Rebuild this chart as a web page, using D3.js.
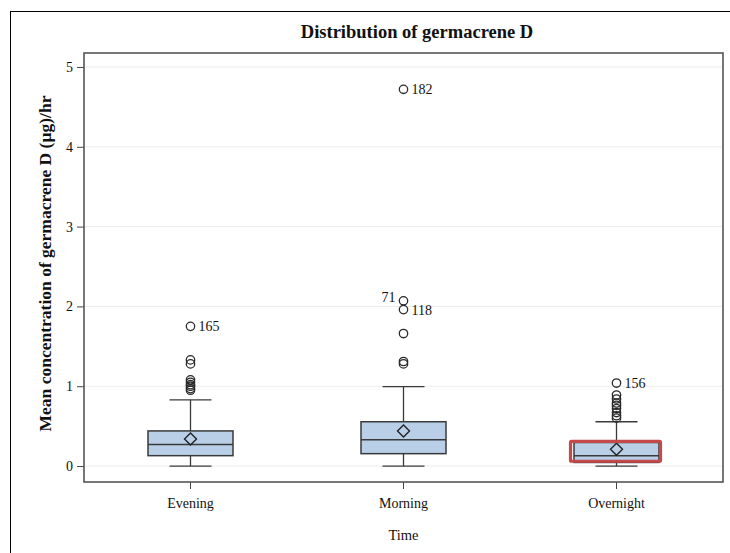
<!DOCTYPE html>
<html>
<head>
<meta charset="utf-8">
<script src="https://cdn.jsdelivr.net/npm/d3@7/dist/d3.min.js"></script>
<style>
  html, body { margin: 0; padding: 0; background: #fff; }
  svg { display: block; }
  text { font-family: "Liberation Serif", "DejaVu Serif", serif; fill: #111; }
</style>
</head>
<body>
<script>
// Summary statistics per time of day
const categories = ["Evening", "Morning", "Overnight"];
const q1 = [0.13, 0.155, 0.045];
const medians = [0.27, 0.33, 0.13];
const q3 = [0.44, 0.555, 0.295];
const means = [0.34, 0.44, 0.21];
const whiskerLow = [0.0, 0.0, 0.0];
const whiskerHigh = [0.83, 0.995, 0.555];

// Outlying observations per category
const outlierEvening = [1.75, 1.33, 1.28, 1.08, 1.05, 1.02, 1.0, 0.97, 0.95];
const outlierMorning = [4.72, 2.07, 1.96, 1.66, 1.31, 1.28];
const outlierOvernight = [1.04, 0.89, 0.84, 0.79, 0.76, 0.72, 0.67, 0.63, 0.6];
// Labelled observations: [category, value, id]
const outlierIds = [
  ["Evening", 1.75, "165"],
  ["Morning", 4.72, "182"],
  ["Morning", 2.07, "71"],
  ["Morning", 1.96, "118"],
  ["Overnight", 1.04, "156"]
];
const yTicks = [0, 1, 2, 3, 4, 5];
// Highlighted range on the Overnight box
const highlight = { category: "Overnight", low: 0.06, high: 0.31 };

const W = 730, H = 553;
const margin = { top: 53, right: 7, bottom: 71, left: 84 };

const svg = d3.select("body").append("svg").attr("width", W).attr("height", H);

// outer graph border (continues past the right and bottom edges)
svg.append("rect")
  .attr("x", 10.5).attr("y", 11.5).attr("width", 760).attr("height", 600)
  .attr("fill", "none").attr("stroke", "#000").attr("stroke-width", 1);

const x = d3.scaleBand().domain(categories)
  .range([margin.left, W - margin.right]).padding(0);
const y = d3.scaleLinear().domain([-0.2, 5.175])
  .range([H - margin.bottom, margin.top]);

// grid lines
svg.append("g").selectAll("line").data(yTicks).join("line")
  .attr("x1", margin.left).attr("x2", W - margin.right)
  .attr("y1", d => y(d)).attr("y2", d => y(d))
  .attr("stroke", "#ececec").attr("stroke-width", 1);

// axes
const yAxis = svg.append("g")
  .attr("transform", `translate(${margin.left},0)`)
  .call(d3.axisLeft(y).tickValues(yTicks).tickSize(7).tickPadding(4).tickFormat(d3.format("d")));
const xAxis = svg.append("g")
  .attr("transform", `translate(0,${H - margin.bottom})`)
  .call(d3.axisBottom(x).tickSize(7).tickPadding(9));
[yAxis, xAxis].forEach(g => {
  g.attr("font-family", null);
  g.select(".domain").remove();
  g.selectAll(".tick line").attr("stroke", "#444");
  g.selectAll(".tick text").style("font-size", "14px").attr("fill", "#111")
    .style("font-family", '"Liberation Serif", serif');
});

// plot frame
svg.append("rect")
  .attr("x", margin.left).attr("y", margin.top)
  .attr("width", W - margin.left - margin.right)
  .attr("height", H - margin.top - margin.bottom)
  .attr("fill", "none").attr("stroke", "#555").attr("stroke-width", 1.6);

const boxW = 85, capW = 42;
const stats = categories.map((c, i) => ({
  c, q1: q1[i], med: medians[i], q3: q3[i], mean: means[i],
  lo: whiskerLow[i], hi: whiskerHigh[i], cx: x(c) + x.bandwidth() / 2
}));

const boxes = svg.append("g").selectAll("g").data(stats).join("g");
const stroke = "#3a3a3a";
// whiskers
boxes.append("line")
  .attr("x1", d => d.cx).attr("x2", d => d.cx)
  .attr("y1", d => y(d.q3)).attr("y2", d => y(d.hi))
  .attr("stroke", stroke).attr("stroke-width", 1.3);
boxes.append("line")
  .attr("x1", d => d.cx).attr("x2", d => d.cx)
  .attr("y1", d => y(d.q1)).attr("y2", d => y(d.lo))
  .attr("stroke", stroke).attr("stroke-width", 1.3);
boxes.selectAll(".cap").data(d => [[d.cx, d.hi], [d.cx, d.lo]]).join("line")
  .attr("x1", d => d[0] - capW / 2).attr("x2", d => d[0] + capW / 2)
  .attr("y1", d => y(d[1])).attr("y2", d => y(d[1]))
  .attr("stroke", stroke).attr("stroke-width", 1.3);
// box
boxes.append("rect")
  .attr("x", d => d.cx - boxW / 2).attr("width", boxW)
  .attr("y", d => y(d.q3)).attr("height", d => y(d.q1) - y(d.q3))
  .attr("fill", "#b9cfe7").attr("stroke", stroke).attr("stroke-width", 1.5);
// median
boxes.append("line")
  .attr("x1", d => d.cx - boxW / 2).attr("x2", d => d.cx + boxW / 2)
  .attr("y1", d => y(d.med)).attr("y2", d => y(d.med))
  .attr("stroke", stroke).attr("stroke-width", 1.5);
// mean diamond
boxes.append("path")
  .attr("transform", d => `translate(${d.cx},${y(d.mean)})`)
  .attr("d", "M0,-6L6,0L0,6L-6,0Z")
  .attr("fill", "none").attr("stroke", "#222").attr("stroke-width", 1.4);

// outliers
const outliers = [
  ...outlierEvening.map(v => ["Evening", v]),
  ...outlierMorning.map(v => ["Morning", v]),
  ...outlierOvernight.map(v => ["Overnight", v])
];
svg.append("g").selectAll("circle").data(outliers).join("circle")
  .attr("cx", d => x(d[0]) + x.bandwidth() / 2)
  .attr("cy", d => y(d[1]))
  .attr("r", 4.2)
  .attr("fill", "none").attr("stroke", "#2a2a2a").attr("stroke-width", 1.3);

// outlier id labels
svg.append("g").selectAll("text").data(outlierIds).join("text")
  .attr("x", d => x(d[0]) + x.bandwidth() / 2 + (d[2] === "71" ? -8 : 8))
  .attr("y", d => y(d[1]) + (d[2] === "71" ? 1 : d[2] === "118" ? 5.5 : 5))
  .attr("text-anchor", d => d[2] === "71" ? "end" : "start")
  .style("font-size", "14px")
  .text(d => d[2]);

// highlight rectangle
const hx = x(highlight.category) + x.bandwidth() / 2;
svg.append("rect")
  .attr("x", hx - boxW / 2 - 3.5).attr("width", boxW + 5)
  .attr("y", y(highlight.high)).attr("height", y(highlight.low) - y(highlight.high))
  .attr("fill", "none").attr("stroke", "#c5484a").attr("stroke-width", 3.2)
  .attr("rx", 1);

// titles
svg.append("text")
  .attr("x", 417).attr("y", 38)
  .attr("text-anchor", "middle")
  .style("font-size", "18.5px").style("font-weight", "bold")
  .text("Distribution of germacrene D");
svg.append("text")
  .attr("transform", `translate(51,${(margin.top + H - margin.bottom) / 2 - 4}) rotate(-90)`)
  .attr("text-anchor", "middle")
  .style("font-size", "17.5px").style("font-weight", "bold")
  .text("Mean concentration of germacrene D (µg)/hr");
svg.append("text")
  .attr("x", x("Morning") + x.bandwidth() / 2).attr("y", 540)
  .attr("text-anchor", "middle")
  .style("font-size", "14.5px")
  .text("Time");
</script>
</body>
</html>
